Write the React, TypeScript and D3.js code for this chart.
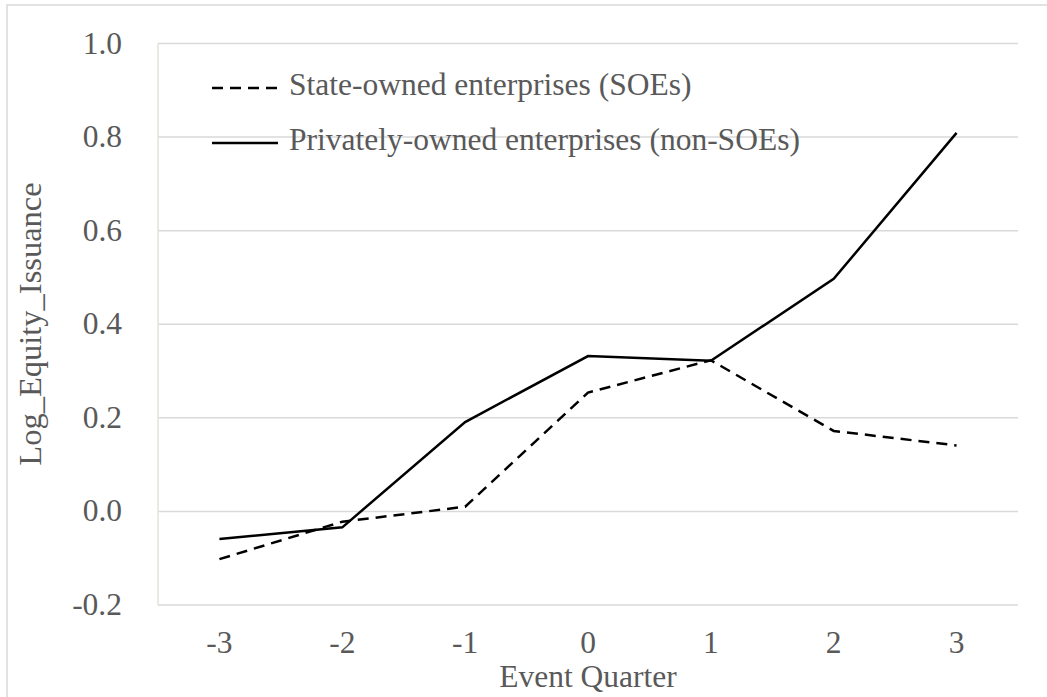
import React from "react";
import * as d3 from "d3";

const quarters = ["-3", "-2", "-1", "0", "1", "2", "3"];
const soeValues = [-0.102, -0.022, 0.01, 0.254, 0.323, 0.172, 0.141];
const nonSoeValues = [-0.059, -0.034, 0.191, 0.332, 0.322, 0.497, 0.809];
const yTicks = [-0.2, 0.0, 0.2, 0.4, 0.6, 0.8, 1.0];
const seriesNames = ["State-owned enterprises (SOEs)", "Privately-owned enterprises (non-SOEs)"];

const W = 1047;
const H = 697;
const FONT = "'Liberation Serif', 'Times New Roman', serif";
const TEXT = "#595959";
const FS = 31.5;

export default function App() {
  const x = d3.scaleBand<string>().domain(quarters).range([158, 1018]);
  const y = d3.scaleLinear().domain([-0.2, 1.0]).range([605, 43.5]);
  const cx = (q: string) => (x(q) as number) + x.bandwidth() / 2;
  const line = d3
    .line<number>()
    .x((_, i) => cx(quarters[i]))
    .y((v) => y(v));

  const ts = { fontFamily: FONT, fill: TEXT } as React.CSSProperties;

  return (
    <svg
      width={W}
      height={H}
      style={{ position: "absolute", left: 0, top: 0, display: "block", background: "#fff" }}
    >
      <rect x={7} y={5} width={1100} height={800} fill="#fff" stroke="#d9d9d9" strokeWidth={1.5} />
      {yTicks.map((t) => (
        <line key={t} x1={158} x2={1018} y1={y(t)} y2={y(t)} stroke="#d9d9d9" strokeWidth={1.5} />
      ))}
      <line x1={158} x2={158} y1={y(1.0)} y2={y(-0.2)} stroke="#e6e2da" strokeWidth={1.5} />
      {yTicks.map((t) => (
        <text key={"l" + t} x={122} y={y(t) + 10} textAnchor="end" fontSize={FS} style={ts}>
          {d3.format(".1f")(t).replace("−", "-")}
        </text>
      ))}
      {quarters.map((q) => (
        <text key={"x" + q} x={cx(q)} y={653} textAnchor="middle" fontSize={FS} style={ts}>
          {q}
        </text>
      ))}
      <text x={588} y={687} textAnchor="middle" fontSize={FS} style={ts}>
        Event Quarter
      </text>
      <text
        transform={`translate(41, 324) rotate(-90)`}
        textAnchor="middle"
        fontSize={32.5}
        style={ts}
      >
        Log_Equity_Issuance
      </text>
      <path d={line(soeValues) || ""} fill="none" stroke="#000" strokeWidth={2.5} strokeDasharray="11,7" />
      <path d={line(nonSoeValues) || ""} fill="none" stroke="#000" strokeWidth={2.5} />
      <line x1={212} x2={278} y1={88} y2={88} stroke="#000" strokeWidth={2.5} strokeDasharray="11,7" />
      <line x1={212} x2={278} y1={143} y2={143} stroke="#000" strokeWidth={2.5} />
      <text x={289} y={95} fontSize={FS} style={ts}>
        {seriesNames[0]}
      </text>
      <text x={289} y={150} fontSize={FS} style={ts}>
        {seriesNames[1]}
      </text>
    </svg>
  );
}
